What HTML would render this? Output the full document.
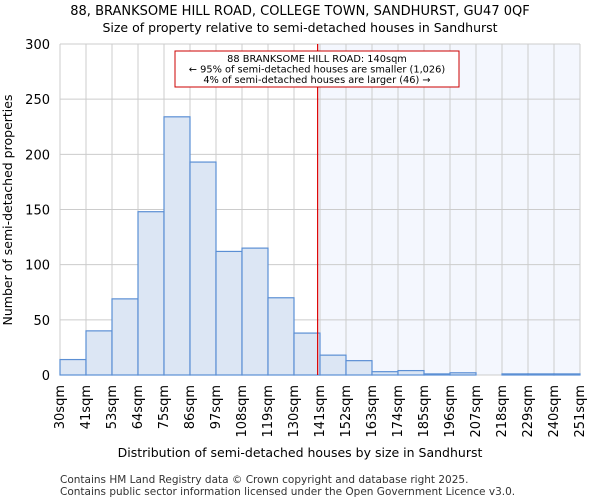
<!DOCTYPE html>
<html><head><meta charset="utf-8"><style>
body{margin:0;background:#fff;font-family:"DejaVu Sans","Liberation Sans",sans-serif;}
</style></head><body>
<svg width="600" height="500" xmlns="http://www.w3.org/2000/svg" font-family="DejaVu Sans, Liberation Sans, sans-serif">
<text x="300" y="15" text-anchor="middle" font-size="13">88, BRANKSOME HILL ROAD, COLLEGE TOWN, SANDHURST, GU47 0QF</text>
<text x="300" y="32" text-anchor="middle" font-size="12.5">Size of property relative to semi-detached houses in Sandhurst</text>
<g id="plot"></g>
<text x="300" y="457" text-anchor="middle" font-size="12.5">Distribution of semi-detached houses by size in Sandhurst</text>
<text x="12" y="210" text-anchor="middle" font-size="12.5" transform="rotate(-90 12 210)">Number of semi-detached properties</text>
<text x="60" y="483" font-size="10.5" fill="#333">Contains HM Land Registry data © Crown copyright and database right 2025.</text>
<text x="60" y="495" font-size="10.5" fill="#333">Contains public sector information licensed under the Open Government Licence v3.0.</text>
</svg>
<script>
const binEdges=[30,41,53,64,75,86,97,108,119,130,141,152,163,174,185,196,207,218,229,240,251];
const counts=[14,40,69,148,234,193,112,115,70,38,18,13,3,4,1,2,0,1,1,1];
const yTicks=[0,50,100,150,200,250,300];
const propertySize=140;
const annotationLines=["88 BRANKSOME HILL ROAD: 140sqm","← 95% of semi-detached houses are smaller (1,026)","4% of semi-detached houses are larger (46) →"];
const NS="http://www.w3.org/2000/svg";
const L=60,R=580,T=44,B=375;
const xi=i=>L+(R-L)*i/counts.length;
const xv=v=>{for(let i=0;i<binEdges.length-1;i++){if(v<=binEdges[i+1])return xi(i)+(v-binEdges[i])/(binEdges[i+1]-binEdges[i])*(xi(i+1)-xi(i));}return R;};
const y=v=>B-(B-T)*v/300;
const g=document.getElementById('plot');
function mk(t,a){const e=document.createElementNS(NS,t);for(const k in a)e.setAttribute(k,a[k]);g.appendChild(e);return e;}
const px=xv(propertySize);
let e=mk('rect',{x:px,y:T,width:R-px,height:B-T,fill:'#f4f7fe'});


yTicks.forEach(t=>{let l=mk('line',{x1:L,x2:R,y1:y(t),y2:y(t),stroke:'#ccc','stroke-width':1});


let tx=mk('text',{x:L-10,y:y(t)+5,'text-anchor':'end','font-size':13});tx.textContent=t;

});
binEdges.forEach((b,i)=>{let l=mk('line',{x1:xi(i),x2:xi(i),y1:T,y2:B,stroke:'#ccc','stroke-width':1});


const cx=xi(i)+4,cy=B+10;
let tx=mk('text',{x:cx,y:cy,'text-anchor':'end','font-size':13,transform:`rotate(-90 ${cx} ${cy})`});tx.textContent=b+'sqm';

});
counts.forEach((c,i)=>{if(c<=0)return;let r=mk('rect',{x:xi(i),y:y(c),width:xi(i+1)-xi(i),height:B-y(c),fill:'#dce6f4',stroke:'#5b8fd4','stroke-width':1.2});

});
e=mk('line',{x1:px,x2:px,y1:T,y2:B,stroke:'#dd0000','stroke-width':1.2});


e=mk('rect',{x:175,y:51,width:284,height:36,fill:'#fff',stroke:'#cc0000','stroke-width':1});


annotationLines.forEach((s,i)=>{let t=mk('text',{x:317,y:62+i*10.5,'text-anchor':'middle','font-size':9.8});t.textContent=s;

});
</script>
</body></html>
